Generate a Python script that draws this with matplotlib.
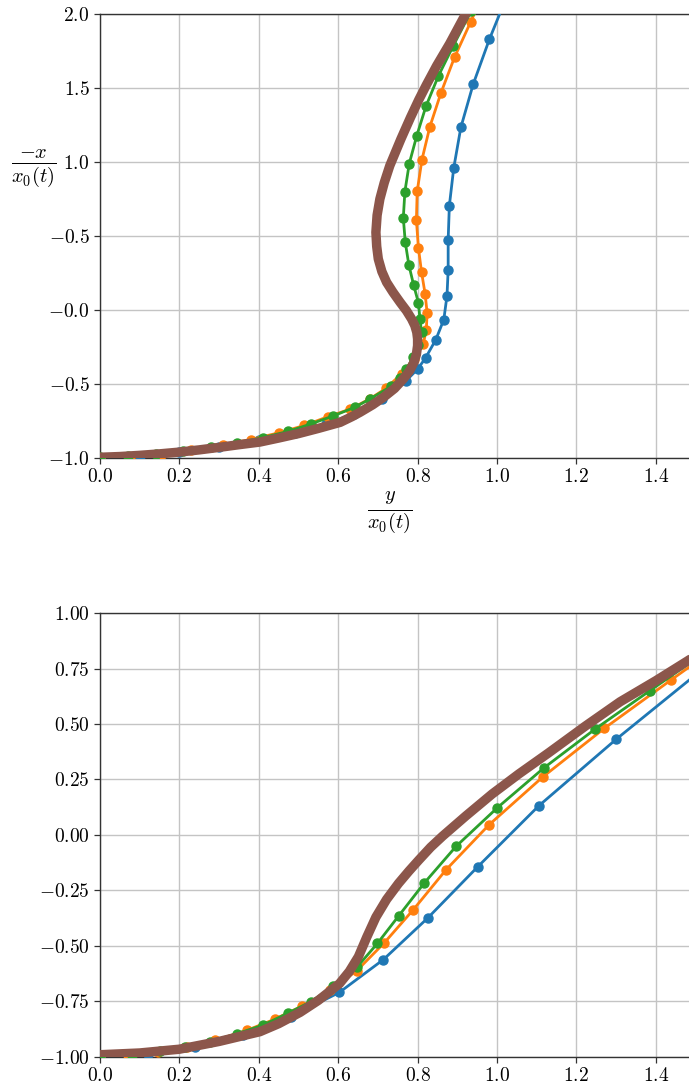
import numpy as np
import matplotlib
matplotlib.use("Agg")
import matplotlib.pyplot as plt

plt.rcParams["mathtext.fontset"] = "cm"
plt.rcParams["font.family"] = ["DejaVu Serif"]

# ---------------- top panel data (y/x0, -x/x0) ----------------
blue_top_x = [0.0, 0.10, 0.20, 0.30, 0.40, 0.49, 0.57, 0.64, 0.71, 0.77, 0.80, 0.820, 0.846,
              0.866, 0.874, 0.877, 0.877, 0.880, 0.891, 0.909, 0.940, 0.981, 1.025]
blue_top_y = [-1.0, -0.985, -0.96, -0.925, -0.88, -0.83, -0.77, -0.70, -0.60, -0.48, -0.40, -0.324, -0.20,
              -0.065, 0.095, 0.270, 0.475, 0.705, 0.959, 1.234, 1.525, 1.83, 2.12]

orange_top_x = [0.0, 0.075, 0.155, 0.23, 0.31, 0.38, 0.45, 0.515, 0.575, 0.63, 0.68, 0.72, 0.76, 0.79,
                0.814, 0.822, 0.824, 0.819, 0.810, 0.802, 0.797, 0.799, 0.811, 0.831, 0.859, 0.893, 0.934, 0.975]
orange_top_y = [-1.0, -0.99, -0.97, -0.945, -0.91, -0.875, -0.83, -0.78, -0.72, -0.67, -0.60, -0.53, -0.43, -0.33,
                -0.232, -0.133, -0.020, 0.108, 0.255, 0.421, 0.608, 0.802, 1.016, 1.239, 1.468, 1.707, 1.948, 2.19]

green_top_x = [0.0, 0.07, 0.14, 0.21, 0.28, 0.345, 0.41, 0.474, 0.531, 0.588, 0.642, 0.680, 0.733, 0.756,
               0.772, 0.789, 0.802, 0.810, 0.806, 0.802, 0.790, 0.778, 0.769, 0.764, 0.768, 0.779,
               0.798, 0.821, 0.852, 0.890, 0.935]
green_top_y = [-0.995, -0.988, -0.973, -0.953, -0.928, -0.898, -0.862, -0.82, -0.77, -0.715, -0.657, -0.601, -0.516, -0.461,
               -0.399, -0.320, -0.235, -0.151, -0.061, 0.050, 0.169, 0.304, 0.457, 0.622, 0.80, 0.989,
               1.178, 1.376, 1.579, 1.786, 2.02]

fine_top_x = [0.0, 0.05, 0.1, 0.15, 0.2, 0.25, 0.3, 0.35, 0.403, 0.45, 0.5, 0.55, 0.605, 0.635, 0.655,
              0.687, 0.714, 0.742, 0.764, 0.780, 0.791, 0.797, 0.800, 0.800, 0.798, 0.793, 0.785, 0.772,
              0.756, 0.738, 0.722, 0.710, 0.701, 0.697, 0.695, 0.698, 0.705, 0.716, 0.730, 0.758, 0.782,
              0.803, 0.822, 0.848, 0.881, 0.921, 0.95]
fine_top_y = [-0.995, -0.99, -0.982, -0.972, -0.96, -0.945, -0.928, -0.91, -0.892, -0.865, -0.835, -0.80, -0.759, -0.72, -0.691,
              -0.64, -0.590, -0.53, -0.466, -0.41, -0.353, -0.30, -0.241, -0.195, -0.151, -0.105, -0.061, -0.005,
              0.052, 0.12, 0.187, 0.26, 0.345, 0.43, 0.525, 0.64, 0.75, 0.86, 0.975, 1.155, 1.30,
              1.42, 1.52, 1.65, 1.80, 2.0, 2.13]

# ---------------- bottom panel data ----------------
blue_bot_x = [0.0, 0.12, 0.24, 0.36, 0.48, 0.603, 0.714, 0.825, 0.951, 1.105, 1.300, 1.52]
blue_bot_y = [-1.0, -0.985, -0.955, -0.90, -0.82, -0.709, -0.561, -0.375, -0.144, 0.131, 0.431, 0.75]

orange_bot_x = [0.0, 0.07, 0.145, 0.22, 0.29, 0.37, 0.44, 0.51, 0.58, 0.647, 0.716, 0.789, 0.872, 0.980,
                1.115, 1.270, 1.438, 1.62]
orange_bot_y = [-1.0, -0.99, -0.976, -0.955, -0.925, -0.88, -0.83, -0.77, -0.70, -0.611, -0.486, -0.337, -0.156, 0.046,
                0.261, 0.480, 0.698, 0.93]

green_bot_x = [0.0, 0.08, 0.15, 0.214, 0.277, 0.344, 0.411, 0.474, 0.531, 0.588, 0.647, 0.699, 0.753, 0.817,
               0.897, 1.001, 1.118, 1.247, 1.385, 1.53]
green_bot_y = [-1.0, -0.99, -0.975, -0.956, -0.931, -0.896, -0.856, -0.802, -0.751, -0.682, -0.596, -0.488, -0.363, -0.216,
               -0.051, 0.123, 0.302, 0.477, 0.650, 0.83]

fine_bot_x = [0.0, 0.1, 0.2, 0.3, 0.403, 0.45, 0.504, 0.55, 0.603, 0.628, 0.651, 0.672, 0.695, 0.722,
              0.752, 0.778, 0.803, 0.833, 0.863, 0.921, 0.988, 1.055, 1.13, 1.222, 1.31, 1.40, 1.478, 1.52]
fine_bot_y = [-0.99, -0.982, -0.965, -0.93, -0.886, -0.85, -0.799, -0.745, -0.67, -0.615, -0.548, -0.46, -0.37, -0.29,
              -0.218, -0.163, -0.113, -0.055, -0.005, 0.085, 0.185, 0.275, 0.37, 0.49, 0.60, 0.695, 0.782, 0.83]

x_ticks = [0.0, 0.2, 0.4, 0.6, 0.8, 1.0, 1.2, 1.4]
x_labels = ["0.0", "0.2", "0.4", "0.6", "0.8", "1.0", "1.2", "1.4"]
top_y_ticks = [-1.0, -0.5, 0.0, 0.5, 1.0, 1.5, 2.0]
top_y_labels = ["-1.0", "-0.5", "-0.0", "-0.5", "1.0", "1.5", "2.0"]
bot_y_ticks = [-1.0, -0.75, -0.5, -0.25, 0.0, 0.25, 0.5, 0.75, 1.0]
bot_y_labels = ["-1.00", "-0.75", "-0.50", "-0.25", "0.00", "0.25", "0.50", "0.75", "1.00"]

XMAX = 1.4836


def draw(ax, series, fine_x, fine_y):
    for (xs, ys), c in zip(series, ["C0", "C1", "C2"]):
        ax.plot(xs, ys, "-o", color=c, lw=2.0, ms=6.5, zorder=3)
    ax.plot(fine_x, fine_y, "--", color="C3", lw=3.0, zorder=4)
    ax.plot(fine_x, fine_y, ":", color="C4", lw=3.5, zorder=5)
    ax.plot(fine_x, fine_y, "-", color="C5", lw=6.8, zorder=6,
            solid_capstyle="round", solid_joinstyle="round")


def style(ax, yticks, ylabels, ylim):
    ax.set_xlim(0, XMAX)
    ax.set_ylim(*ylim)
    ax.set_xticks(x_ticks)
    ax.set_xticklabels([f"${s}$" for s in x_labels])
    ax.set_yticks(yticks)
    ax.set_yticklabels([f"${s}$" for s in ylabels])
    ax.tick_params(labelsize=14, length=4, width=0.9, color="#333333")
    ax.grid(True, color="#c4c4c4", lw=1.0)
    ax.set_axisbelow(True)
    ax.spines["right"].set_visible(False)
    for s in ["top", "left", "bottom"]:
        ax.spines[s].set_color("#333333")
        ax.spines[s].set_linewidth(1.0)


fig = plt.figure(figsize=(6.89, 10.90), dpi=100)
ax1 = fig.add_axes([0.1451, 0.5798, 0.8549, 0.4074])
ax2 = fig.add_axes([0.1451, 0.0303, 0.8549, 0.4073])

draw(ax1, [(blue_top_x, blue_top_y), (orange_top_x, orange_top_y), (green_top_x, green_top_y)],
     fine_top_x, fine_top_y)
style(ax1, top_y_ticks, top_y_labels, (-1.0, 2.0))
ax1.set_xlabel(r"$\frac{y}{x_0(t)}$", fontsize=21, va="top")
ax1.xaxis.set_label_coords(0.492, -0.071)
ax1.set_ylabel(r"$\frac{-x}{x_0(t)}$", fontsize=21, rotation=0, va="center", ha="center")
ax1.yaxis.set_label_coords(-0.113, 0.652)

draw(ax2, [(blue_bot_x, blue_bot_y), (orange_bot_x, orange_bot_y), (green_bot_x, green_bot_y)],
     fine_bot_x, fine_bot_y)
style(ax2, bot_y_ticks, bot_y_labels, (-1.0, 1.0))

fig.savefig("out.png", dpi=100)
